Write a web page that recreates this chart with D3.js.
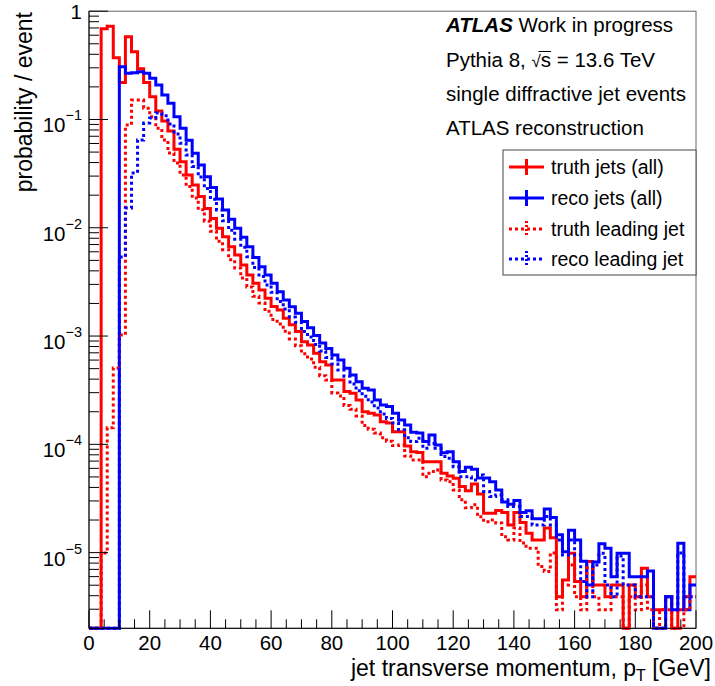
<!DOCTYPE html>
<html><head><meta charset="utf-8">
<script src="https://cdn.jsdelivr.net/npm/d3@7"></script>
<style>
body{margin:0;background:#fff}
text{font-family:"Liberation Sans",Arial,Helvetica,sans-serif;fill:#000}
</style>
</head><body><svg id="c" width="715" height="686"></svg>
<script>
// ---------------- data ----------------
const binEdges = d3.range(0, 201, 2); // jet pT bin edges [GeV], 2 GeV bins

const truthAll = [
 0, 0, 0.689, 0.725, 0.372, 0.219, 0.581, 0.423, 0.294, 0.219,
 0.162, 0.120, 0.0969, 0.0783, 0.0531, 0.0408, 0.0307, 0.0248, 0.0194, 0.0151,
 0.0122, 0.00989, 0.00827, 0.00669, 0.00561, 0.00453, 0.00366, 0.00307, 0.00266, 0.00223,
 0.00187, 0.00174, 0.00146, 0.00127, 0.00110, 8.88e-4, 8.28e-4, 6.94e-4, 5.80e-4, 5.41e-4,
 3.93e-4, 3.93e-4, 3.07e-4, 2.96e-4, 2.57e-4, 2.00e-4, 1.94e-4, 1.87e-4, 1.62e-4, 1.57e-4,
 1.31e-4, 1.31e-4, 9.66e-5, 8.56e-5, 8.42e-5, 6.92e-5, 6.92e-5, 6.92e-5, 5.41e-5, 5.11e-5,
 4.86e-5, 4.07e-5, 3.73e-5, 4.31e-5, 3.48e-5, 2.31e-5, 2.31e-5, 2.45e-5, 2.35e-5, 1.80e-5,
 2.35e-5, 1.90e-5, 1.51e-5, 1.31e-5, 1.31e-5, 1.69e-5, 1.37e-5, 3.92e-6, 5.60e-6, 9.87e-6,
 5.40e-6, 3.92e-6, 8.26e-6, 5.03e-6, 5.03e-6, 3.92e-6, 5.03e-6, 5.03e-6, 0, 5.03e-6,
 3.92e-6, 7.18e-6, 3.92e-6, 2.96e-6, 2.96e-6, 3.92e-6, 0, 2.96e-6, 3.92e-6, 6.00e-6
];
const recoAll = [
 0, 0, 0, 0, 0, 0.307, 0.267, 0.270, 0.276, 0.267,
 0.240, 0.208, 0.168, 0.141, 0.106, 0.0829, 0.0643, 0.0487, 0.0380, 0.0296,
 0.0236, 0.0184, 0.0146, 0.0120, 0.00989, 0.00817, 0.00669, 0.00532, 0.00437, 0.00366,
 0.00307, 0.00257, 0.00215, 0.00186, 0.00162, 0.00136, 0.00119, 0.00101, 8.64e-4, 7.68e-4,
 6.69e-4, 6.02e-4, 5.04e-4, 4.37e-4, 3.79e-4, 3.30e-4, 3.18e-4, 2.57e-4, 2.31e-4, 2.23e-4,
 1.94e-4, 1.68e-4, 1.51e-4, 1.29e-4, 1.27e-4, 1.06e-4, 1.22e-4, 9.87e-5, 8.38e-5, 8.56e-5,
 6.92e-5, 5.60e-5, 6.14e-5, 5.89e-5, 4.89e-5, 4.89e-5, 4.52e-5, 3.79e-5, 2.94e-5, 2.79e-5,
 3.03e-5, 2.35e-5, 2.43e-5, 2.05e-5, 2.05e-5, 2.53e-5, 2.11e-5, 1.46e-5, 1.02e-5, 1.61e-5,
 1.31e-5, 8.33e-6, 5.03e-6, 8.20e-6, 1.21e-5, 1.10e-5, 6.00e-6, 9.87e-6, 9.87e-6, 6.00e-6,
 6.00e-6, 6.00e-6, 6.78e-6, 0, 0, 3.92e-6, 2.96e-6, 1.22e-5, 2.96e-6, 5.03e-6
];
const truthLeading = [
 0, 0, 9.94e-6, 1.42e-4, 5.08e-4, 1.02e-3, 0.0889, 0.151, 0.151, 0.127,
 0.106, 0.0829, 0.0647, 0.0491, 0.0397, 0.0307, 0.0240, 0.0188, 0.0147, 0.0115,
 0.00928, 0.00750, 0.00628, 0.00507, 0.00425, 0.00344, 0.00284, 0.00233, 0.00202, 0.00169,
 0.00142, 0.00129, 0.00111, 9.40e-4, 8.15e-4, 6.88e-4, 6.15e-4, 5.15e-4, 4.31e-4, 3.93e-4,
 2.98e-4, 2.80e-4, 2.28e-4, 2.11e-4, 1.83e-4, 1.49e-4, 1.38e-4, 1.27e-4, 1.15e-4, 1.07e-4,
 9.73e-5, 9.87e-5, 7.81e-5, 7.18e-5, 7.18e-5, 5.03e-5, 5.60e-5, 5.80e-5, 4.69e-5, 4.52e-5,
 3.79e-5, 3.07e-5, 2.59e-5, 2.76e-5, 2.14e-5, 1.93e-5, 2.00e-5, 1.88e-5, 1.40e-5, 1.31e-5,
 1.69e-5, 1.23e-5, 1.10e-5, 1.10e-5, 7.43e-6, 6.68e-6, 9.94e-6, 2.96e-6, 5.03e-6, 7.70e-6,
 3.92e-6, 2.96e-6, 7.22e-6, 3.92e-6, 2.96e-6, 2.96e-6, 3.92e-6, 3.92e-6, 0, 3.92e-6,
 2.96e-6, 5.03e-6, 2.96e-6, 0, 2.96e-6, 2.96e-6, 0, 0, 2.96e-6, 3.92e-6
];
const recoLeading = [
 0, 0, 0, 0, 0, 5.37e-3, 0.0152, 0.0321, 0.0647, 0.0928,
 0.103, 0.115, 0.108, 0.0909, 0.0735, 0.0603, 0.0470, 0.0367, 0.0294, 0.0230,
 0.0183, 0.0146, 0.0116, 0.00948, 0.00783, 0.00661, 0.00541, 0.00430, 0.00354, 0.00296,
 0.00254, 0.00208, 0.00178, 0.00150, 0.00134, 0.00110, 9.81e-4, 8.37e-4, 7.29e-4, 6.35e-4,
 5.53e-4, 4.86e-4, 4.25e-4, 3.61e-4, 3.13e-4, 2.78e-4, 2.46e-4, 2.17e-4, 1.91e-4, 1.73e-4,
 1.57e-4, 1.36e-4, 1.15e-4, 1.06e-4, 1.14e-4, 9.20e-5, 1.02e-4, 9.20e-5, 7.70e-5, 7.44e-5,
 6.22e-5, 5.03e-5, 5.03e-5, 4.69e-5, 5.22e-5, 3.66e-5, 3.29e-5, 3.41e-5, 3.07e-5, 2.66e-5,
 2.66e-5, 2.15e-5, 2.15e-5, 1.80e-5, 1.80e-5, 2.15e-5, 1.80e-5, 1.31e-5, 9.52e-6, 1.31e-5,
 9.52e-6, 5.40e-6, 3.92e-6, 7.70e-6, 9.87e-6, 5.03e-6, 3.92e-6, 9.32e-6, 5.03e-6, 5.03e-6,
 3.92e-6, 3.92e-6, 3.92e-6, 0, 0, 3.92e-6, 2.96e-6, 9.93e-6, 3.92e-6, 3.92e-6
];

const xTickLabels = [0, 20, 40, 60, 80, 100, 120, 140, 160, 180, 200];
const yDecadeExponents = [0, -1, -2, -3, -4, -5];
const legendLabels = ["truth jets (all)", "reco jets (all)", "truth leading jet", "reco leading jet"];
const infoLines = ["Work in progress", "Pythia 8, ", "single diffractive jet events", "ATLAS reconstruction"];

// ---------------- layout ----------------
const L = 89, R = 696, T = 11.2, B = 628.3;
const svg = d3.select("#c");
const x = d3.scaleLinear().domain([0, 200]).range([L, R]);
const y = d3.scaleLog().domain([2e-6, 1]).range([B, T]);
const FS = 20.5, FT = 23;

svg.append("defs").append("clipPath").attr("id", "clip")
  .append("rect").attr("x", L).attr("y", T - 2).attr("width", R - L).attr("height", B - T + 4);

// frame
svg.append("rect").attr("x", L).attr("y", T).attr("width", R - L).attr("height", B - T)
  .attr("fill", "none").attr("stroke", "#666").attr("stroke-width", 1);

// histograms
function stepPath(vals) {
  const pts = [];
  vals.forEach((v, i) => {
    const yy = v > 0 ? y(v) : B;
    pts.push([x(binEdges[i]), yy], [x(binEdges[i + 1]), yy]);
  });
  return d3.line()(pts);
}
const series = [
  {vals: truthAll, color: "#ff0000", dash: null},
  {vals: recoAll, color: "#0000ff", dash: null},
  {vals: truthLeading, color: "#ff0000", dash: "3,3"},
  {vals: recoLeading, color: "#0000ff", dash: "3,3"}
];
const gH = svg.append("g").attr("clip-path", "url(#clip)");
series.forEach(s => {
  gH.append("path").attr("d", stepPath(s.vals)).attr("fill", "none")
    .attr("stroke", s.color).attr("stroke-width", 3)
    .attr("stroke-dasharray", s.dash).attr("stroke-linejoin", "miter");
});

// axes lines
svg.append("line").attr("x1", L).attr("x2", L).attr("y1", T).attr("y2", B).attr("stroke", "#000");
svg.append("line").attr("x1", L).attr("x2", R).attr("y1", B).attr("y2", B).attr("stroke", "#000");

// x ticks (inside)
d3.range(0, 201, 5).forEach(v => {
  const major = v % 20 === 0;
  const len = major ? 18 : 9;
  svg.append("line").attr("x1", x(v)).attr("x2", x(v)).attr("y1", B).attr("y2", B - len)
    .attr("stroke", "#000").attr("stroke-width", 1);
});
xTickLabels.forEach(v => {
  svg.append("text").attr("x", x(v)).attr("y", 650).attr("text-anchor", "middle")
    .attr("font-size", FS).text(v);
});

// y ticks (inside)
for (let k = -6; k <= 0; k++) {
  for (let m = 1; m <= 9; m++) {
    const v = m * Math.pow(10, k);
    if (v < 2e-6 - 1e-12 || v > 1 + 1e-9) continue;
    const len = m === 1 ? 19 : 10;
    svg.append("line").attr("x1", L).attr("x2", L + len).attr("y1", y(v)).attr("y2", y(v))
      .attr("stroke", "#000").attr("stroke-width", 1);
  }
}
yDecadeExponents.forEach(e => {
  const yy = y(Math.pow(10, e));
  if (e === 0) {
    svg.append("text").attr("x", 82).attr("y", yy + 8).attr("text-anchor", "end")
      .attr("font-size", FS).text("1");
  } else {
    const t = svg.append("text").attr("x", 82).attr("y", yy + 13).attr("text-anchor", "end")
      .attr("font-size", FS);
    t.append("tspan").text("10");
    t.append("tspan").attr("dy", -12).attr("font-size", 14.5).text("\u2212" + (-e));
  }
});

// axis titles
const xt = svg.append("text").attr("x", 711).attr("y", 675.5).attr("text-anchor", "end").attr("font-size", FT);
xt.append("tspan").text("jet transverse momentum, p");
xt.append("tspan").attr("dy", 5).attr("font-size", 16).text("T");
xt.append("tspan").attr("dy", -5).text(" [GeV]");

svg.append("text").attr("transform", "translate(32,12) rotate(-90)")
  .attr("text-anchor", "end").attr("font-size", FT).text("probability / event");

// info text
const tx = 446;
const l1 = svg.append("text").attr("x", tx).attr("y", 32).attr("font-size", FS);
l1.append("tspan").attr("font-weight", "bold").attr("font-style", "italic").text("ATLAS");
l1.append("tspan").text(" " + infoLines[0]);

const l2 = svg.append("text").attr("x", tx).attr("y", 67).attr("font-size", FS);
l2.append("tspan").text(infoLines[1]);
l2.append("tspan").attr("font-size", 17).text("\u221A");
l2.append("tspan").text("s");
l2.append("tspan").text(" = 13.6 TeV");
{
  const n = l2.node();
  const idx = infoLines[1].length; // index of radical
  const x0 = n.getStartPositionOfChar(idx).x + 7;
  const x1 = n.getEndPositionOfChar(idx + 1).x;
  svg.append("line").attr("x1", x0).attr("x2", x1).attr("y1", 67 - 15.5).attr("y2", 67 - 15.5)
    .attr("stroke", "#000").attr("stroke-width", 1);
}
svg.append("text").attr("x", tx).attr("y", 101).attr("font-size", FS).text(infoLines[2]);
svg.append("text").attr("x", tx).attr("y", 135).attr("font-size", FS).text(infoLines[3]);

// legend
const lg = svg.append("g");
lg.append("rect").attr("x", 503).attr("y", 150).attr("width", 193).attr("height", 125)
  .attr("fill", "#fff").attr("stroke", "#444").attr("stroke-width", 1);
const legCenters = [167, 198, 229, 259];
series.forEach((s, i) => {
  const cy = legCenters[i];
  lg.append("line").attr("x1", 509).attr("x2", 544).attr("y1", cy).attr("y2", cy)
    .attr("stroke", s.color).attr("stroke-width", 3).attr("stroke-dasharray", s.dash);
  lg.append("line").attr("x1", 526.5).attr("x2", 526.5).attr("y1", cy - 8).attr("y2", cy + 8)
    .attr("stroke", s.color).attr("stroke-width", 3).attr("stroke-dasharray", s.dash ? "2,2" : null);
  lg.append("text").attr("x", 551).attr("y", cy + 7).attr("font-size", 19.5).text(legendLabels[i]);
});
</script>
</body></html>
